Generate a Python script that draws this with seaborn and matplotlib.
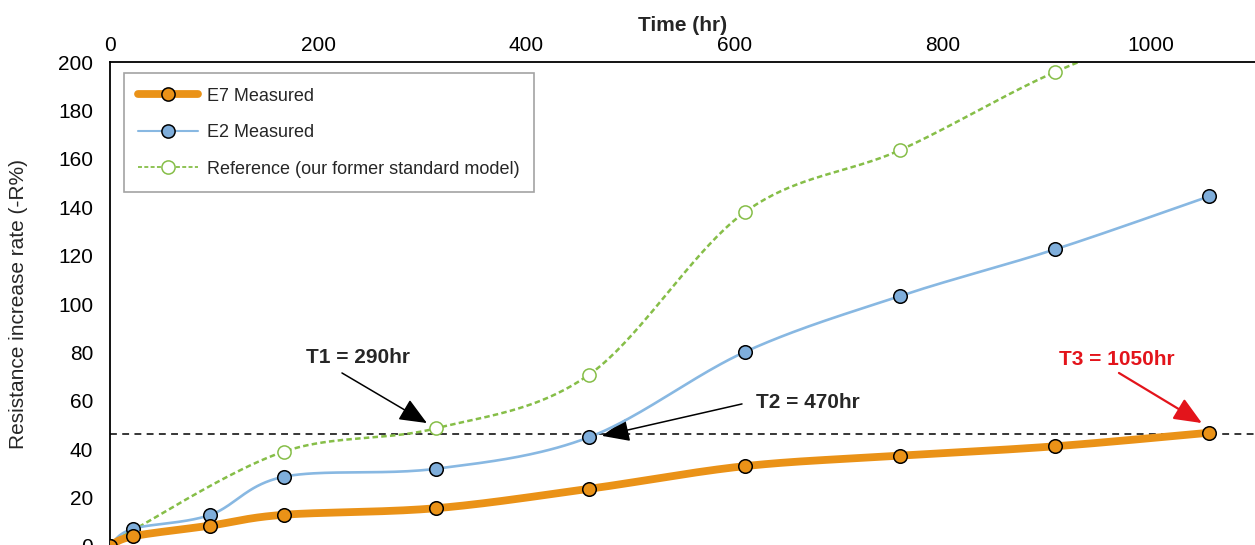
import numpy as np
import pandas as pd
import seaborn as sns
import matplotlib.pyplot as plt
from matplotlib.lines import Line2D

# data
time_e = [0, 22, 96, 167, 313, 460, 610, 759, 908, 1056]
e7_measured = [0, 4.0, 8.4, 12.9, 15.6, 23.6, 33.0, 37.3, 41.2, 46.8]
e2_measured = [0, 7.1, 12.8, 28.6, 31.9, 44.9, 80.2, 103.3, 122.6, 144.5]
time_ref = [0, 22, 167, 313, 460, 610, 759, 908, 1056]
ref_model = [0, 6.5, 39.0, 48.6, 70.7, 138.0, 163.6, 195.9, 220.0]
threshold = 46.3
x_ticks = [0, 200, 400, 600, 800, 1000]
y_ticks = [0, 20, 40, 60, 80, 100, 120, 140, 160, 180, 200]
names = ['E7 Measured', 'E2 Measured', 'Reference (our former standard model)']


def smooth(xs, ys, n=40):
    # excel style smoothed line (catmull-rom bezier through the points)
    p = np.column_stack([xs, ys]).astype(float)
    pe = np.vstack([p[0], p, p[-1]])
    out = []
    t = np.linspace(0, 1, n)[:, None]
    for i in range(len(p) - 1):
        p0, p1, p2, p3 = pe[i], pe[i + 1], pe[i + 2], pe[i + 3]
        c1 = p1 + (p2 - p0) / 6
        c2 = p2 - (p3 - p1) / 6
        seg = (1 - t) ** 3 * p1 + 3 * (1 - t) ** 2 * t * c1 + 3 * (1 - t) * t ** 2 * c2 + t ** 3 * p2
        out.append(seg if i == 0 else seg[1:])
    out = np.vstack(out)
    return pd.DataFrame({'x': out[:, 0], 'y': out[:, 1]})


sns.set_theme(style='white')
plt.rcParams['font.family'] = ['Liberation Sans', 'DejaVu Sans']

orange = '#EA9217'
blue_line = '#88B8E2'
blue_fill = '#7FAEDB'
green = '#86BE48'
red = '#E3141B'

fig = plt.figure(figsize=(12.55, 5.45), dpi=100)
ax = fig.add_axes([0.0876, -0.0018, 0.9124, 0.888])

# reference (bottom)
s = smooth(time_ref, ref_model)
sns.lineplot(data=s, x='x', y='y', sort=False, estimator=None, ax=ax, color=green,
             lw=1.8, dashes=(2.2, 1.3), zorder=2)
sns.scatterplot(x=time_ref, y=ref_model, ax=ax, s=90, color='white', edgecolor=green,
                linewidth=1.1, zorder=3)

# E2
s = smooth(time_e, e2_measured)
sns.lineplot(data=s, x='x', y='y', sort=False, estimator=None, ax=ax, color=blue_line,
             lw=1.9, zorder=4)
sns.scatterplot(x=time_e, y=e2_measured, ax=ax, s=95, color=blue_fill, edgecolor='black',
                linewidth=1.1, zorder=5)

# E7 (top)
s = smooth(time_e, e7_measured)
sns.lineplot(data=s, x='x', y='y', sort=False, estimator=None, ax=ax, color=orange,
             lw=5.6, zorder=6, solid_capstyle='round')
sns.scatterplot(x=time_e, y=e7_measured, ax=ax, s=95, color=orange, edgecolor='black',
                linewidth=1.1, zorder=7)

ax.axhline(threshold, color='black', lw=1.1, dashes=(4.5, 3.5), zorder=1)

ax.set_xlim(0, 1100)
ax.set_ylim(0, 200)
ax.set_xticks(x_ticks)
ax.set_yticks(y_ticks)
ax.xaxis.tick_top()
ax.xaxis.set_label_position('top')
ax.tick_params(axis='x', length=0, pad=5, labelsize=15, colors='black')
ax.tick_params(axis='y', length=0, pad=12, labelsize=15, colors='black')
ax.set_xlabel('Time (hr)', fontsize=15, fontweight='bold', labelpad=4)
ax.set_ylabel('Resistance increase rate (-R%)', fontsize=15)
ax.yaxis.set_label_coords(-0.0715, 0.5)
for side in ['right', 'bottom']:
    ax.spines[side].set_visible(False)
for side in ['left', 'top']:
    ax.spines[side].set_color('black')
    ax.spines[side].set_linewidth(1.3)
ax.grid(False)

# annotations
arrow = dict(arrowstyle='-|>,head_length=0.85,head_width=0.36', lw=1.1, color='black',
             shrinkA=0, shrinkB=0, mutation_scale=20)
ax.text(238, 77.7, 'T1 = 290hr', fontsize=15, fontweight='bold', ha='center', va='center')
ax.annotate('', xy=(304.5, 50.8), xytext=(222.9, 71.5), arrowprops=arrow)
ax.text(621, 59.5, 'T2 = 470hr', fontsize=15, fontweight='bold', ha='left', va='center')
ax.annotate('', xy=(472.7, 45.5), xytext=(607.2, 58.7), arrowprops=arrow)
arrow_red = dict(arrow, color=red, lw=1.6)
ax.text(967.4, 76.9, 'T3 = 1050hr', fontsize=15, fontweight='bold', ha='center', va='center',
        color=red)
ax.annotate('', xy=(1049, 50.8), xytext=(969.3, 71.5), arrowprops=arrow_red)

handles = [
    Line2D([], [], color=orange, lw=5.6, marker='o', ms=9.5, mfc=orange, mec='black', mew=1.1),
    Line2D([], [], color=blue_line, lw=1.5, marker='o', ms=9.5, mfc=blue_fill, mec='black', mew=1.1),
    Line2D([], [], color=green, lw=1.3, dashes=(2.2, 1.3), marker='o', ms=9.5, mfc='white',
           mec=green, mew=1.1),
]
leg = ax.legend(handles, names, loc='upper left', bbox_to_anchor=(0.0122, 0.977),
                borderaxespad=0, fontsize=13, frameon=True, fancybox=False,
                edgecolor='#8c8c8c', borderpad=0.8, labelspacing=1.08, handlelength=3.3,
                handletextpad=0.5)
leg.get_frame().set_linewidth(1.2)

plt.savefig('out.png', dpi=100)
